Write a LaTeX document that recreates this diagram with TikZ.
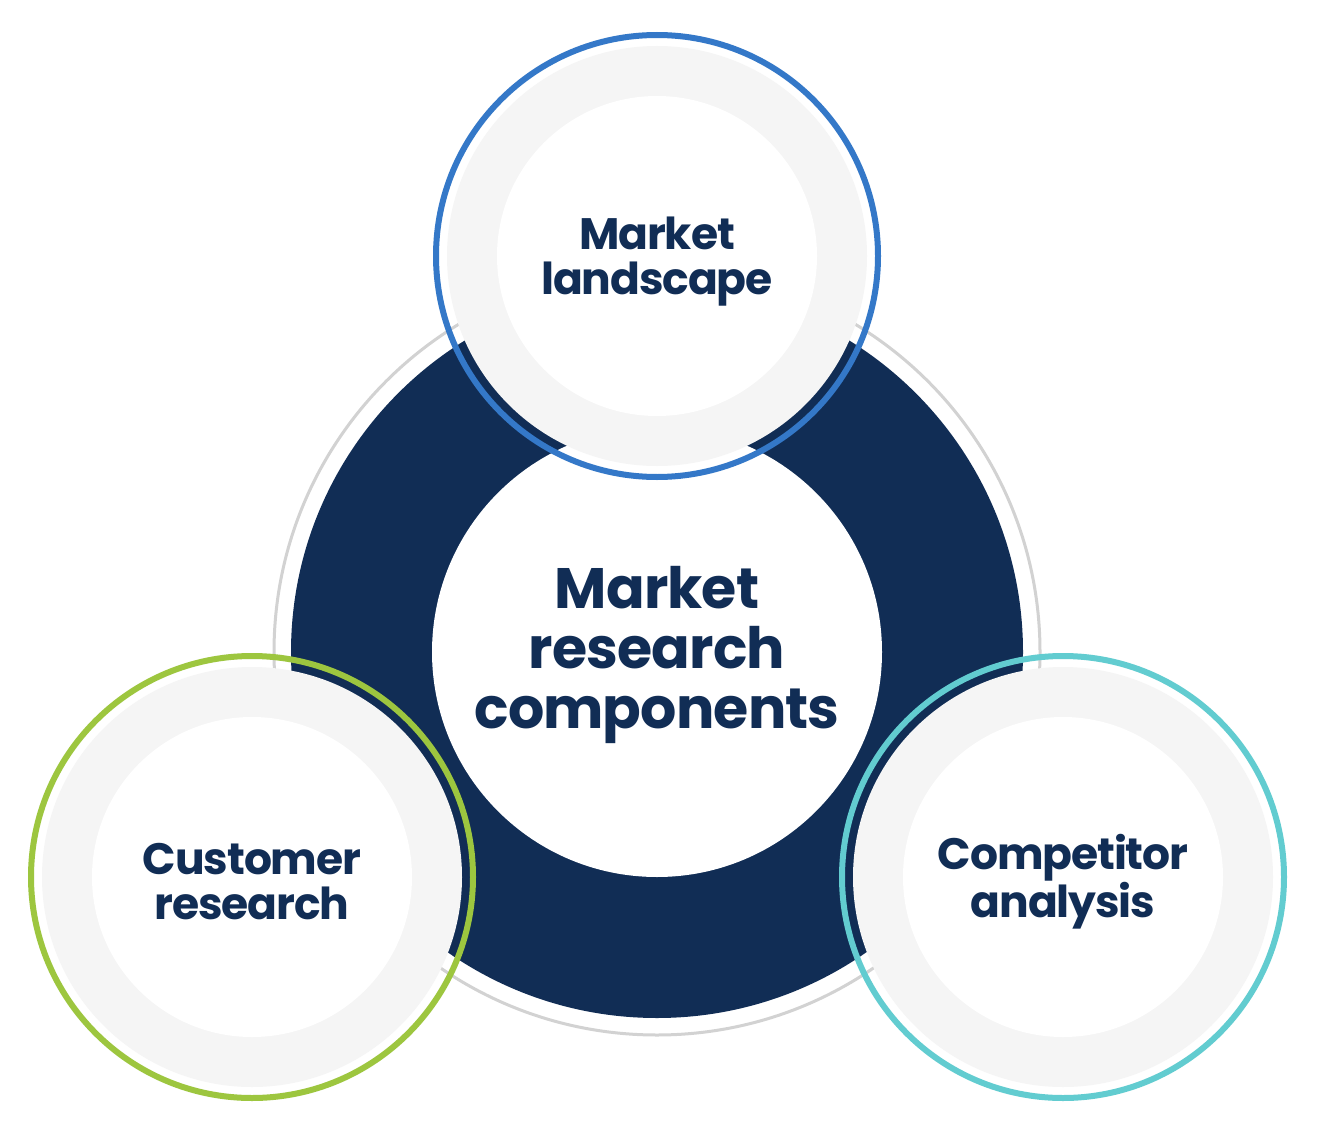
\documentclass[tikz,border=0pt]{standalone}
\usepackage{fontspec}
\setmainfont{Poppins}
\definecolor{navy}{HTML}{112D55}
\definecolor{blueR}{HTML}{3478C8}
\definecolor{greenR}{HTML}{9DC63F}
\definecolor{tealR}{HTML}{62CCD0}
\definecolor{lgray}{HTML}{F5F5F5}
\definecolor{outl}{HTML}{D2D2D2}
\tikzset{
  satring/.style={circle, draw=#1, line width=6pt, minimum size=442pt, inner sep=0pt},
  satgray/.style={circle, fill=lgray, minimum size=420pt, inner sep=0pt},
  satwhite/.style={circle, fill=white, minimum size=320pt, inner sep=0pt},
  sattext/.style={text=navy, align=center, font=\bfseries\fontsize{44}{45}\selectfont\addfontfeature{LetterSpace=-2.5}, inner sep=0pt},
  centertext/.style={text=navy, align=center, font=\bfseries\fontsize{57}{60}\selectfont\addfontfeature{LetterSpace=-1.5}, inner sep=0pt}
}
\begin{document}
\begin{tikzpicture}[x=1pt,y=-1pt]
\useasboundingbox[fill=white] (0,0) rectangle (1330,1142);
% big ring
\node[circle, draw=outl, line width=3pt, minimum size=766pt, inner sep=0pt] (outline) at (657,652) {};
\node[circle, fill=navy, minimum size=732pt, inner sep=0pt] (ring) at (657,652) {};
\node[circle, fill=white, minimum size=450pt, inner sep=0pt] (hub) at (657,652) {};
\node[centertext] (ctext) at (657,655) {Market\\research\\components};
% top
\node[satgray] (tg) at (657,256) {};
\node[satwhite] (tw) at (657,256) {};
\node[satring=blueR] (tr) at (657,256) {};
\node[sattext] (tt) at (657,262) {Market\\landscape};
% left
\node[satgray] (lg) at (252,877) {};
\node[satwhite] (lw) at (252,877) {};
\node[satring=greenR] (lr) at (252,877) {};
\node[sattext] (lt) at (252,882) {Customer\\research};
% right
\node[satgray] (rg) at (1063,877) {};
\node[satwhite] (rw) at (1063,877) {};
\node[satring=tealR] (rr) at (1063,877) {};
\node[sattext] (rt) at (1063,882) {Competitor\\analysis};
\end{tikzpicture}
\end{document}
